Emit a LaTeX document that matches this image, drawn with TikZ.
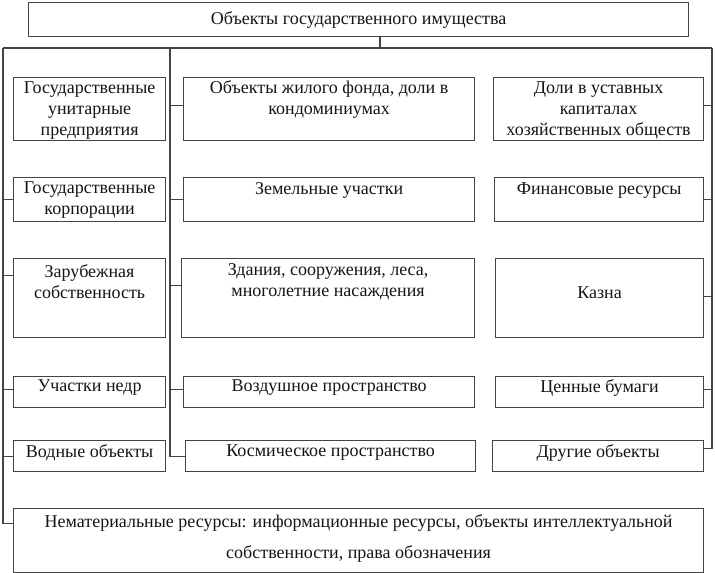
\documentclass[tikz,border=0pt]{standalone}
\usepackage{fontspec}
\setmainfont{Liberation Serif}
\definecolor{lc}{HTML}{444444}
\definecolor{tc}{HTML}{151515}
\begin{document}
\begin{tikzpicture}[x=1pt,y=-1pt,
  box/.style={draw=lc, line width=1.2pt, anchor=north west, inner sep=0pt},
  wh/.style 2 args={minimum width=#1pt, minimum height=#2pt},
  txt/.style={font=\fontsize{18}{21}\selectfont, align=center, inner sep=0pt, text=tc},
  conn/.style={draw=lc, line width=1.2pt}]
\useasboundingbox (0,0) rectangle (715,573);
% boxes
\node[box, wh={660}{34}] (top) at (28,2) {};
\node[box, wh={152}{63}] (l1) at (13,77) {};
\node[box, wh={152}{44}] (l2) at (13,177) {};
\node[box, wh={152}{79}] (l3) at (13,258) {};
\node[box, wh={152}{31}] (l4) at (13,376) {};
\node[box, wh={152}{31}] (l5) at (13,440) {};
\node[box, wh={291}{63}] (m1) at (183,77) {};
\node[box, wh={291}{44}] (m2) at (183,177) {};
\node[box, wh={293}{79}] (m3) at (181,258) {};
\node[box, wh={291}{31}] (m4) at (183,376) {};
\node[box, wh={290}{31}] (m5) at (185,440) {};
\node[box, wh={210}{63}] (r1) at (493,77) {};
\node[box, wh={209}{44}] (r2) at (494,177) {};
\node[box, wh={208}{79}] (r3) at (495,258) {};
\node[box, wh={208}{31}] (r4) at (495,376) {};
\node[box, wh={211}{31}] (r5) at (492,440) {};
\node[box, wh={690}{64}] (bot) at (13,508) {};
% texts
\node[txt] (t-top) at (top.center) {Объекты государственного имущества};
\node[txt] (t-l1) at ([yshift=-1.5pt]l1.center) {Государственные\\унитарные\\предприятия};
\node[txt] (t-l2) at (l2.center) {Государственные\\корпорации};
\node[txt] (t-l3) at ([yshift=16.5pt]l3.center) {Зарубежная\\собственность};
\node[txt] (t-l4) at ([yshift=4.5pt]l4.center) {Участки недр};
\node[txt] (t-l5) at ([yshift=3.5pt]l5.center) {Водные объекты};
\node[txt] (t-m1) at ([yshift=9.5pt]m1.center) {Объекты жилого фонда, доли в\\кондоминиумах};
\node[txt] (t-m2) at ([yshift=9pt]m2.center) {Земельные участки};
\node[txt] (t-m3) at ([yshift=16.5pt]m3.center) {Здания, сооружения, леса,\\многолетние насаждения};
\node[txt] (t-m4) at ([yshift=4.5pt]m4.center) {Воздушное пространство};
\node[txt] (t-m5) at ([yshift=3.5pt]m5.center) {Космическое пространство};
\node[txt] (t-r1) at ([yshift=-1.5pt]r1.center) {Доли в уставных\\капиталах\\хозяйственных обществ};
\node[txt] (t-r2) at ([yshift=9pt]r2.center) {Финансовые ресурсы};
\node[txt] (t-r3) at ([yshift=5.5pt]r3.center) {Казна};
\node[txt] (t-r4) at ([yshift=4.5pt]r4.center) {Ценные бумаги};
\node[txt] (t-r5) at ([yshift=3.5pt]r5.center) {Другие объекты};
\node[txt, font=\fontsize{18}{31}\selectfont] (t-bot) at ([yshift=2.5pt]bot.center) {Нематериальные ресурсы: информационные ресурсы, объекты интеллектуальной\\собственности, права обозначения};
% buses
\coordinate (lb) at (3,48);
\coordinate (mb) at (170,48);
\coordinate (rb) at (712,48);
\coordinate (tj) at (380,48);
\draw[conn] (top.south -| tj) -- (tj);
\draw[conn] (lb) -- (rb);
\draw[conn] (lb) |- ([yshift=17pt]bot.west);
\draw[conn] (mb) |- (m5.west);
\draw[conn] (rb) |- ([yshift=7.5pt]r5.east);
% left ticks
\draw[conn] (l2.west) -- (l2.west -| lb);
\draw[conn] ([yshift=22.5pt]l3.west) -- ([yshift=22.5pt]l3.west -| lb);
\draw[conn] ([yshift=2.5pt]l4.west) -- ([yshift=2.5pt]l4.west -| lb);
\draw[conn] (l5.west) -- (l5.west -| lb);
% middle ticks
\draw[conn] ([yshift=3.5pt]m1.west) -- ([yshift=3.5pt]m1.west -| mb);
\draw[conn] (m2.west) -- (m2.west -| mb);
\draw[conn] ([yshift=12.5pt]m3.west) -- ([yshift=12.5pt]m3.west -| mb);
\draw[conn] ([yshift=2.5pt]m4.west) -- ([yshift=2.5pt]m4.west -| mb);
% right ticks
\draw[conn] ([yshift=3.5pt]r1.east) -- ([yshift=3.5pt]r1.east -| rb);
\draw[conn] (r2.east) -- (r2.east -| rb);
\draw[conn] ([yshift=1.5pt]r3.east) -- ([yshift=1.5pt]r3.east -| rb);
\draw[conn] ([yshift=2.5pt]r4.east) -- ([yshift=2.5pt]r4.east -| rb);
\end{tikzpicture}
\end{document}
